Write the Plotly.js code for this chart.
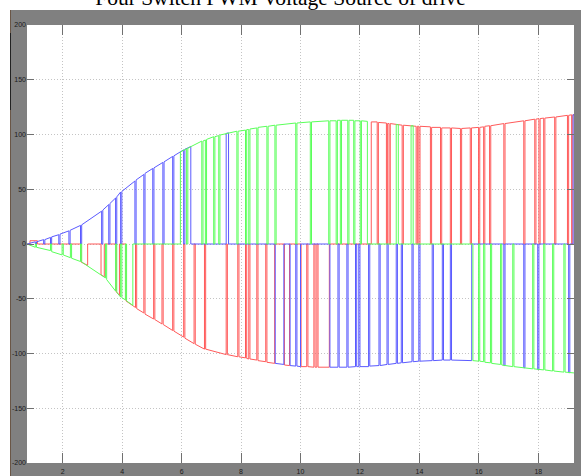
<!DOCTYPE html>
<html>
<head>
<meta charset="utf-8">
<script src="https://cdn.plot.ly/plotly-3.0.1.min.js"></script>
<style>html,body{margin:0;padding:0;background:#fff;}#chart{width:581px;height:476px;}</style>
</head>
<body>
<div id="chart"></div>
<script>
// Pulses: [start, end, level at start, level at end]
const redPulses = [
  [0.90,1.15,3,3],
  [2.62,2.84,-16.5,-19.5],[3.29,3.40,-28,-30],[3.80,3.91,-43.5,-47],[4.13,4.45,-52,-58],
  [4.49,4.73,-59,-63],[4.77,5.06,-64,-68.5],[5.10,5.34,-69,-73],[5.38,5.70,-73.5,-79],
  [5.74,6.07,-79.5,-85],[6.11,6.42,-86,-91],[6.46,6.77,-91.5,-96],[6.81,7.50,-96,-101],
  [7.54,7.89,-101,-103],[7.93,8.15,-103,-104],[8.19,8.26,-104.5,-105],[8.30,8.53,-105,-106],
  [8.57,8.83,-106.5,-107.5],[8.87,9.13,-108,-109],[9.46,9.63,-110.5,-111],[10.02,10.21,-112,-112],
  [10.25,10.45,-112,-112.5],[10.49,10.55,-112.5,-112.5],[10.59,10.97,-112.5,-112.5],
  [12.38,12.58,111.5,111.5],[12.62,12.89,111,110.5],[12.93,12.98,110,110],[13.02,13.42,110,108.5],
  [13.46,13.89,108.5,107.5],[13.93,13.98,107.5,107.5],[14.02,14.37,107.5,107],[14.41,14.71,106.5,106.5],
  [14.75,15.04,106,106],[15.08,15.38,106,105.5],[15.42,15.71,105.5,106],[15.75,15.99,106,106.5],
  [16.03,16.16,106.5,107],[16.20,16.36,107.5,108],[16.40,16.84,108,110],[16.88,17.51,110,112.5],
  [17.55,17.88,112.5,114],[17.92,18.02,114,114.5],[18.06,18.18,114.5,115],[18.22,18.55,115,116],
  [18.59,18.98,116,117.5],[19.02,19.12,117.5,118],[19.16,19.30,118,118]
];
const bluePulses = [
  [0.80,1.08,0,2],[1.12,1.36,2,4],[1.40,1.59,4,6],[1.63,1.87,6.5,8.5],[1.91,2.21,9,12],
  [2.25,2.60,12.5,17],[2.64,3.31,17.5,30],[3.35,3.55,31,36],[3.59,3.78,37,42],[3.82,3.95,43,47.5],
  [3.99,4.43,48,57.5],[4.47,4.73,58.5,63.5],[4.77,5.03,64.5,69],[5.07,5.37,69.5,74.5],
  [5.41,5.70,75,80],[5.74,6.07,80.5,86],[6.11,6.31,86.5,89],[7.50,7.58,101,101.5],
  [9.15,9.44,-109,-110],[9.65,9.84,-111,-111.5],[9.88,10.00,-111.5,-112],[10.99,11.26,-112.5,-112.5],
  [11.30,11.56,-112.5,-112.5],[11.60,11.85,-112.5,-112],[11.89,11.96,-112,-112],[12.00,12.29,-112,-112],
  [12.33,12.64,-111.5,-111],[12.68,12.91,-111,-110],[12.95,13.22,-110,-109],[13.26,13.39,-109,-108.5],
  [13.43,13.75,-108.5,-107.5],[13.79,13.98,-107.5,-107],[14.02,14.43,-107,-106.5],[14.47,14.77,-106.5,-106],
  [14.81,15.04,-106,-106],[15.08,15.76,-106,-106.5],[16.84,16.88,-111,-111],[17.51,17.55,-113,-113],
  [17.98,18.02,-114.5,-114.5],[19.02,19.06,-117.5,-117.5],[19.17,19.30,118,118]
];
const greenPulses = [
  [0.80,1.08,0,-3],[1.12,1.59,-3,-6],[1.63,1.98,-7,-10],[2.02,2.26,-10,-12.5],[2.30,2.60,-13,-16],
  [2.64,3.44,-16.5,-31],[3.48,3.78,-32.5,-43],[3.82,3.95,-44,-48.5],[3.99,4.11,-49,-51],[4.15,4.36,-52,-56],
  [5.96,6.17,84,87],[6.21,6.68,87.5,94],[6.72,6.80,94,95],[6.84,7.08,95.5,98],[7.12,7.25,98,99],
  [7.29,7.86,99.5,103],[7.90,8.15,103,104],[8.19,8.26,104.5,104.5],[8.30,8.53,105,106],[8.57,8.87,106.5,107.5],
  [8.91,9.14,107.5,108.5],[9.18,9.84,108.5,110.5],[9.88,10.33,110.5,111.5],[10.37,10.95,111.5,112.5],
  [10.99,11.20,112.5,112.5],[11.24,11.34,113,113],[11.38,11.59,113,113],[11.63,11.79,113,113],
  [11.83,12.01,112.5,112.5],[12.05,12.25,112.5,112],[13.22,13.29,109,109],[13.72,13.79,108,108],
  [15.80,15.99,-106.5,-107],[16.03,16.16,-107,-107.5],[16.20,16.39,-108,-108.5],[16.43,16.73,-109,-110],
  [16.77,17.14,-110.5,-112],[17.18,17.81,-112,-114],[17.85,18.18,-114,-115],[18.22,18.48,-115,-116],
  [18.52,18.86,-116,-117],[18.90,19.30,-117,-118]
];
const timeStart = 0.8, timeEnd = 19.3;
const xTickVals = [2,4,6,8,10,12,14,16,18];
const xTickText = ['2','4','6','8','10','12','14','16','18'];
const yTickVals = [-200,-150,-100,-50,0,50,100,150,200];
const yTickText = ['-200','-150','-100','-50','0','50','100','150','200'];
const chartTitle = 'Four Switch PWM Voltage Source of drive';

function build(pulses, color){
  const xs=[timeStart], ys=[0];
  pulses.forEach(p=>{ xs.push(p[0],p[0],p[1],p[1]); ys.push(0,p[2],p[3],0); });
  xs.push(timeEnd); ys.push(0);
  return {x:xs, y:ys, type:'scatter', mode:'lines', line:{color:color, width:1}, hoverinfo:'skip'};
}
const data = [build(redPulses,'#ff5a5a'), build(bluePulses,'#5a5aff'), build(greenPulses,'#5aff5a')];

// plot area: x 27..574 px, y 25..463 px
const PX = px => (px-27)/547, PY = py => (463-py)/438;
const tickFont = {family:'Liberation Sans Narrow, Liberation Sans, Arial, sans-serif', size:7, color:'#1a1a1a'};
const gridCommon = {ticks:'inside', tickwidth:1, tickcolor:'#707070', mirror:'ticks', showline:false,
  showgrid:true, gridcolor:'#c4c4c4', griddash:'1px,2px', gridwidth:1, zeroline:false, tickfont:tickFont, fixedrange:true};
const layout = {
  width:581, height:476,
  margin:{l:27, r:7, t:25, b:13, pad:0},
  paper_bgcolor:'#ffffff', plot_bgcolor:'#ffffff',
  showlegend:false,
  title:{text:chartTitle, font:{family:'Liberation Serif, Times New Roman, serif', size:21.5, color:'#000'},
         xref:'container', x:280.5/581, xanchor:'center', yref:'container', y:1-4.5/476, yanchor:'bottom', pad:{t:0,b:0,l:0,r:0}},
  xaxis:Object.assign({range:[0.8,19.2], tickvals:xTickVals, ticktext:xTickText, ticklen:10, ticklabelstandoff:3}, gridCommon),
  yaxis:Object.assign({range:[-200,200], tickvals:yTickVals, ticktext:yTickText, ticklen:7}, gridCommon),
  shapes:[
    {type:'rect', xref:'paper', yref:'paper', x0:PX(10), x1:PX(590), y0:PY(490), y1:PY(10), fillcolor:'#808080', line:{width:0}, layer:'below'},
    {type:'rect', xref:'paper', yref:'paper', x0:0, x1:1, y0:0, y1:1, fillcolor:'#ffffff', line:{width:0}, layer:'below'},
    {type:'line', xref:'paper', yref:'paper', x0:PX(10.5), x1:PX(10.5), y0:PY(490), y1:PY(10), line:{color:'#6a5646', width:1}, layer:'below'},
    {type:'line', xref:'paper', yref:'paper', x0:PX(10.5), x1:PX(10.5), y0:PY(110), y1:PY(33), line:{color:'#222222', width:1}, layer:'below'}
  ]
};
Plotly.newPlot('chart', data, layout, {displayModeBar:false, staticPlot:true});
</script>
</body>
</html>
